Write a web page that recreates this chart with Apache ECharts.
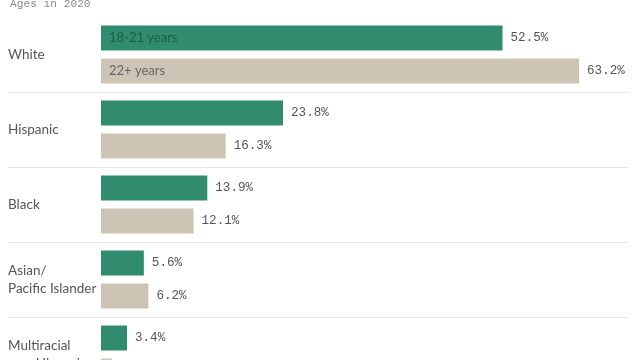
<!DOCTYPE html>
<html><head><meta charset="utf-8">
<script src="https://cdn.jsdelivr.net/npm/echarts@6/dist/echarts.min.js"></script>
<style>html,body{margin:0;padding:0;background:#fff}#c{width:640px;height:360px}</style>
</head><body><div id="c"></div>
<script>
const categories = ['White', 'Hispanic', 'Black', 'Asian/\nPacific Islander', 'Multiracial\nnon-Hispanic'];
const seriesNames = ['18-21 years', '22+ years'];
const young = [52.5, 23.8, 13.9, 5.6, 3.4];
const older = [63.2, 16.3, 12.1, 6.2, 1.4];
const subtitle = 'Ages in 2020';

const GREEN = '#318c6f', BEIGE = '#cec4b6';
const chart = echarts.init(document.getElementById('c'));
const gridPos = {left: 101, width: 478, top: 17, height: 375, outerBoundsMode: 'none', containLabel: false};
const mono = "'Liberation Mono', 'DejaVu Sans Mono', monospace";

function xAx(i){return {gridIndex:i, type:'value', min:0, max:62.5, show:false};}
function yAx(i, showLabels){
  return {gridIndex:i, type:'category', data:categories, inverse:true,
    axisLine:{show:false}, axisTick:{show:false}, splitLine:{show:false},
    axisLabel: showLabels ? {show:true, align:'left', margin:93, color:'#555', fontFamily:'Lato', fontSize:13.5, lineHeight:18} : {show:false}};
}
function barSeries(name, data, color, gi){
  return {name, type:'bar', xAxisIndex:gi, yAxisIndex:gi, data, barWidth:25, barGap:'32%',
    itemStyle:{color}, clip:true, silent:true,
    label:{show:true, position:'right', distance:8, color:'#555', fontFamily:mono, fontSize:12.6,
      formatter: p => p.value.toFixed(1) + '%'}};
}
function nameSeries(name, data, color, gi){
  return {name, type:'bar', xAxisIndex:gi, yAxisIndex:gi, data, barWidth:25, barGap:'32%',
    itemStyle:{color:'rgba(0,0,0,0)'}, clip:true, silent:true,
    label:{show:true, position:'insideLeft', distance:8, color, fontFamily:'Lato', fontSize:13,
      formatter: p => p.dataIndex === 0 ? p.seriesName : ''}};
}
chart.setOption({
  animation:false,
  title:{text:subtitle, left:10, top:-1, padding:0, textStyle:{color:'#8a8a8a', fontFamily:mono, fontSize:11.2, fontWeight:'normal'}},
  grid:[
    {left:8, right:12, top:17, height:375, outerBoundsMode:'none', containLabel:false},
    Object.assign({}, gridPos),
    Object.assign({}, gridPos)
  ],
  xAxis:[xAx(0), xAx(1), xAx(2)],
  yAxis:[
    {gridIndex:0, type:'category', data:categories, inverse:true, axisLine:{show:false}, axisTick:{show:false}, axisLabel:{show:false},
     splitLine:{show:true, interval:(i)=>i!==0, lineStyle:{color:'#e6e6e6', width:1}}},
    yAx(1, true), yAx(2, false)
  ],
  series:[
    barSeries(seriesNames[0], young, GREEN, 1),
    barSeries(seriesNames[1], older, BEIGE, 1),
    nameSeries(seriesNames[0], young, '#1d5c46', 2),
    nameSeries(seriesNames[1], older, '#666', 2)
  ]
});
</script></body></html>
